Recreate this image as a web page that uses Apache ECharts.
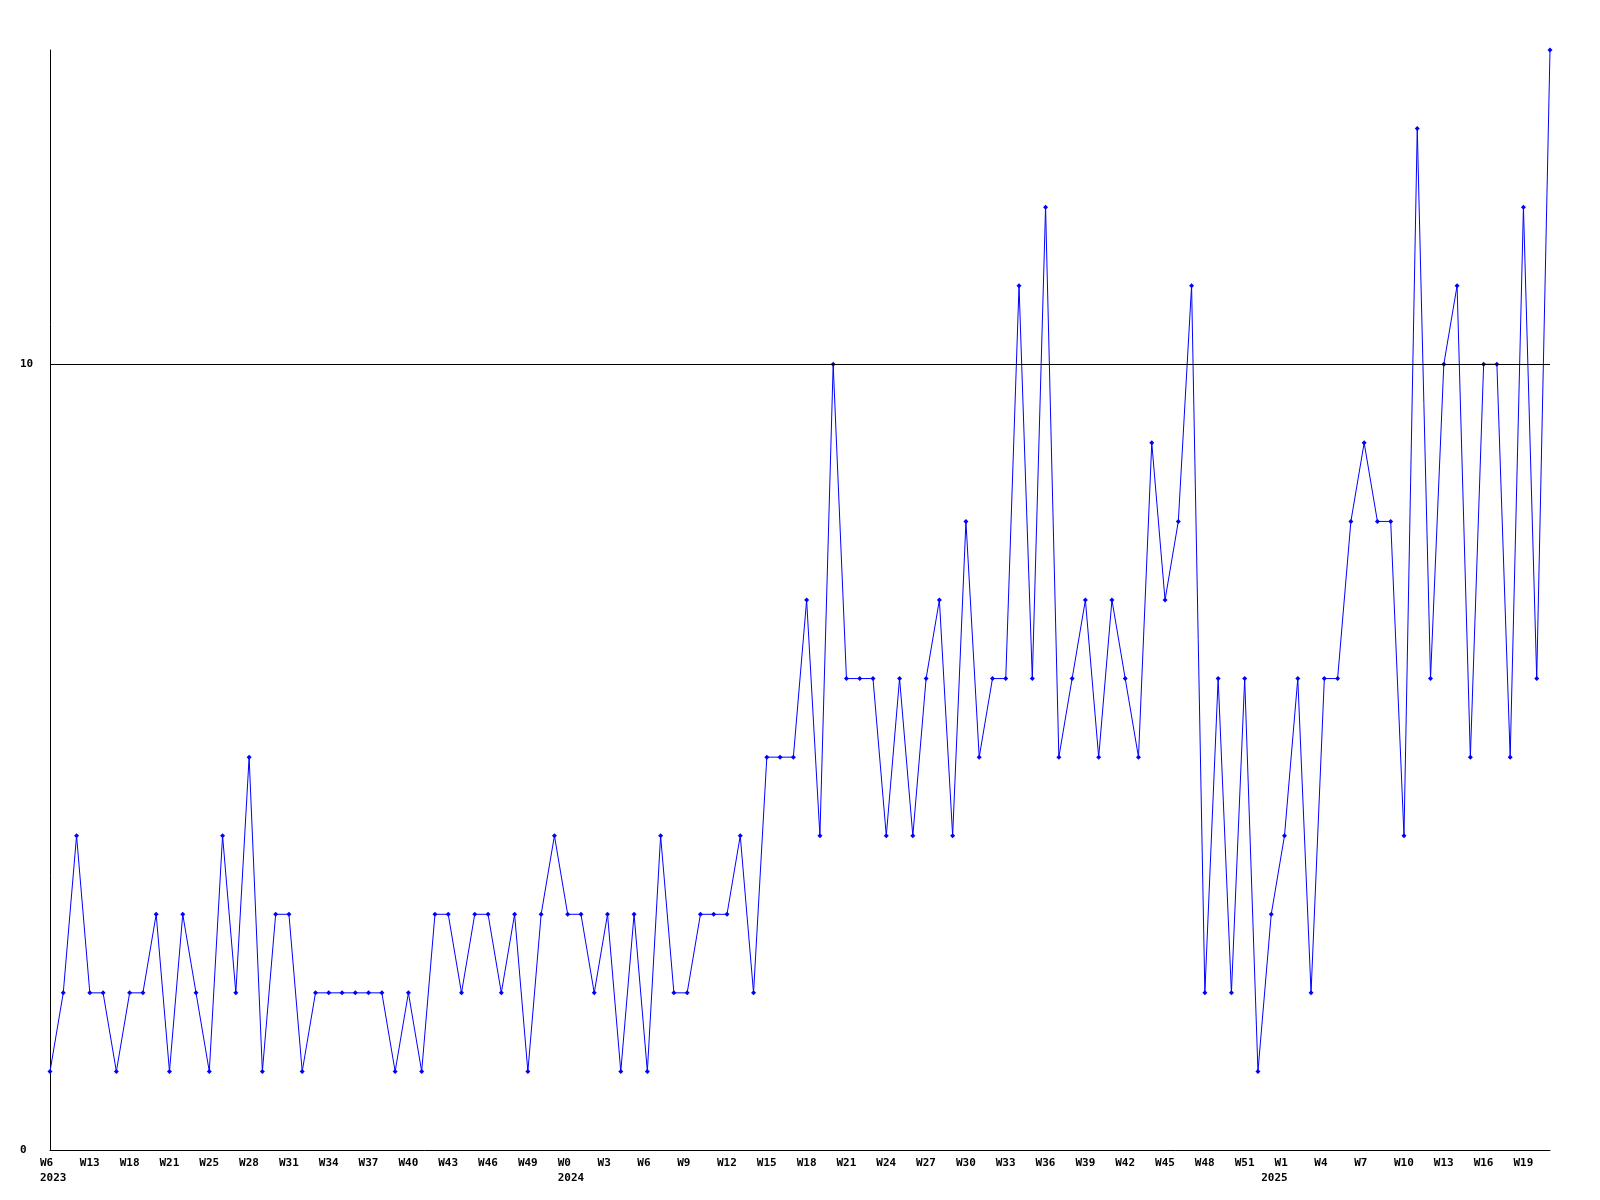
<!DOCTYPE html>
<html>
<head>
<meta charset="utf-8">
<script src="https://cdn.jsdelivr.net/npm/echarts@6/dist/echarts.min.js"></script>
<style>
html,body{margin:0;padding:0;background:#fff;}
#chart{width:1600px;height:1200px;}
</style>
</head>
<body>
<div id="chart"></div>
<script>
// Week categories (every third one is labelled on the axis)
const weekLabels = [
  'W6','W9','W11','W13','W15','W16','W18','W19','W20','W21','W22','W24','W25',
  'W26','W27','W28','W29','W30','W31','W32','W33','W34','W35','W36','W37','W38','W39',
  'W40','W41','W42','W43','W44','W45','W46','W47','W48','W49','W50','W51',
  'W0','W1','W2','W3','W4','W5','W6','W7','W8','W9','W10','W11','W12','W13','W14',
  'W15','W16','W17','W18','W19','W20','W21','W22','W23','W24','W25','W26','W27',
  'W28','W29','W30','W31','W32','W33','W34','W35','W36','W37','W38','W39','W40',
  'W41','W42','W43','W44','W45','W46','W47','W48','W49','W50','W51','W52',
  'W0','W1','W2','W3','W4','W5','W6','W7','W8','W9','W10','W11','W12','W13','W14',
  'W15','W16','W17','W18','W19','W20','W21'
];
// Year shown at the first week of each year
const yearMarks = { 0: '2023', 39: '2024', 92: '2025' };

const counts = [
  1,2,4,2,2,1,2,2,3,1,3,2,1,4,2,5,1,3,3,1,
  2,2,2,2,2,2,1,2,1,3,3,2,3,3,2,3,1,3,4,3,
  3,2,3,1,3,1,4,2,2,3,3,3,4,2,5,5,5,7,4,10,
  6,6,6,4,6,4,6,7,4,8,5,6,6,11,6,12,5,6,7,5,
  7,6,5,9,7,8,11,2,6,2,6,1,3,4,6,2,6,6,8,9,
  8,8,4,13,6,10,11,5,10,10,5,12,6,14
];

const yTicks = { min: 0, max: 14, interval: 10 };

const chart = echarts.init(document.getElementById('chart'), null, { renderer: 'canvas' });
const font = 'DejaVu Sans Mono';
const labelBase = {
  align: 'left',
  verticalAlign: 'top',
  padding: [0, 0, 0, -10],
  color: '#000',
  fontFamily: font,
  fontWeight: 'bold',
  fontSize: 11
};
chart.setOption({
  animation: false,
  backgroundColor: '#ffffff',
  grid: { left: 50, right: 50, top: 50, bottom: 50, containLabel: false },
  xAxis: [{
    type: 'category',
    data: weekLabels,
    boundaryGap: false,
    position: 'bottom',
    axisLine: { show: true, lineStyle: { color: '#000', width: 1 } },
    axisTick: { show: false },
    splitLine: { show: false },
    axisLabel: Object.assign({}, labelBase, { interval: 2, margin: 8 })
  }, {
    type: 'category',
    data: weekLabels,
    boundaryGap: false,
    position: 'bottom',
    axisLine: { show: false },
    axisTick: { show: false },
    splitLine: { show: false },
    axisLabel: Object.assign({}, labelBase, {
      margin: 23,
      interval: function (idx) { return yearMarks.hasOwnProperty(idx); },
      formatter: function (val, idx) { return yearMarks[idx] || ''; }
    })
  }],
  yAxis: {
    type: 'value',
    min: yTicks.min,
    max: yTicks.max,
    interval: yTicks.interval,
    axisLine: { show: true, lineStyle: { color: '#000', width: 1 } },
    axisTick: { show: false },
    splitLine: { show: false },
    axisLabel: {
      showMaxLabel: false,
      align: 'left',
      margin: 30,
      color: '#000',
      fontFamily: font,
      fontWeight: 'bold',
      fontSize: 11,
      formatter: function (v) { return v % yTicks.interval === 0 ? String(v) : ''; }
    }
  },
  series: [{
    type: 'line',
    xAxisIndex: 0,
    data: counts,
    symbol: 'diamond',
    symbolSize: 5,
    showSymbol: true,
    lineStyle: { color: '#0000ff', width: 1 },
    itemStyle: { color: '#0000ff' },
    markLine: {
      silent: true,
      symbol: ['none', 'none'],
      label: { show: false },
      lineStyle: { color: '#000', width: 1, type: 'solid' },
      data: [{ yAxis: 10 }]
    }
  }]
});
</script>
</body>
</html>
